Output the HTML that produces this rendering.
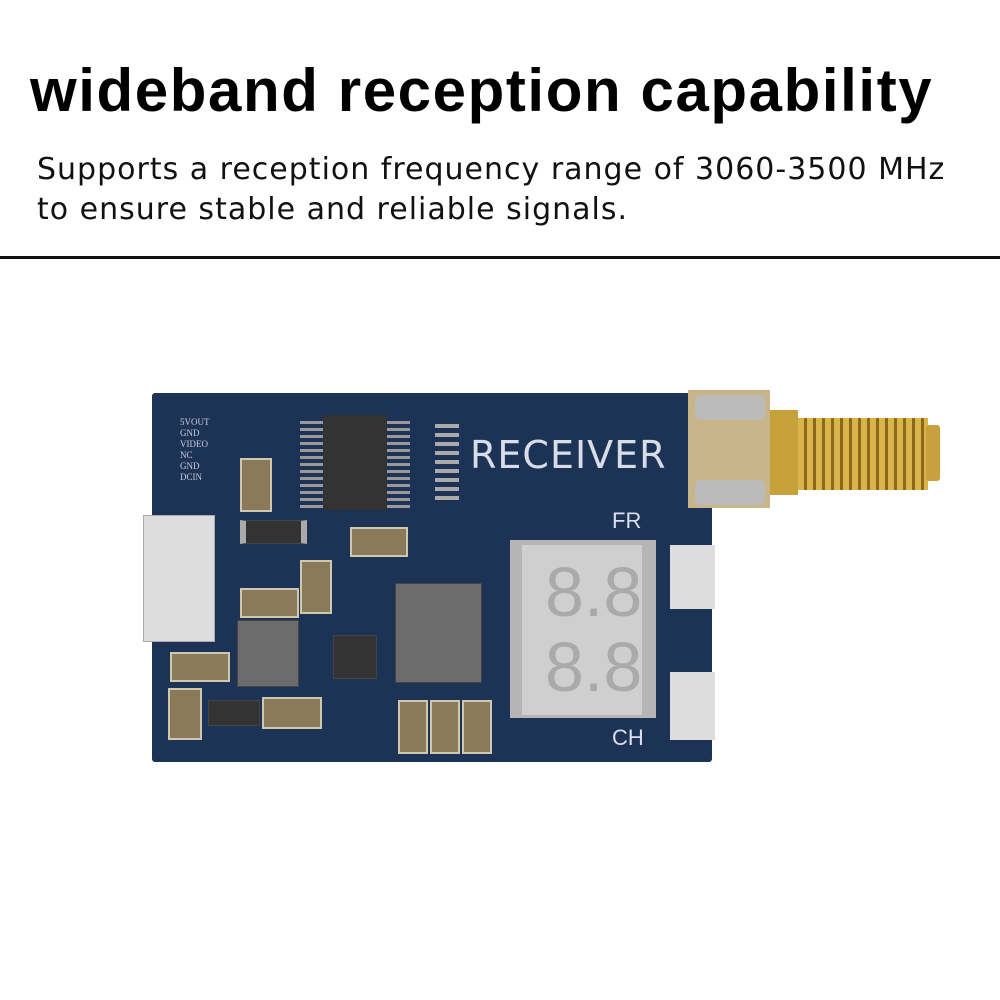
<!DOCTYPE html>
<html><head><style>
body{margin:0;width:1000px;height:1000px;background:#fff;position:relative;overflow:hidden;font-family:"Liberation Sans","DejaVu Sans",sans-serif}
.a{position:absolute}
h1{position:absolute;left:30px;top:56px;margin:0;font-size:60px;font-weight:bold;color:#000;letter-spacing:1.6px;white-space:nowrap}
.p{position:absolute;left:37px;font-size:30px;letter-spacing:1px;color:#111;font-family:"DejaVu Sans",sans-serif;white-space:nowrap}
.c{background:#8a7a5a;border:2px solid #cfc7b0}
.m{background:#777;border:1px solid #444}
</style></head><body>
<h1>wideband reception capability</h1>
<div class="p" style="top:152px">Supports a reception frequency range of 3060-3500 MHz</div>
<div class="p" style="top:192px">to ensure stable and reliable signals.</div>
<div class="a" style="left:0;top:256px;width:1000px;height:3px;background:#111"></div>

<div class="a" style="left:152px;top:393px;width:560px;height:369px;background:#1d3356;border-radius:3px"></div>
<div class="a" style="left:688px;top:390px;width:82px;height:118px;background:#c9b58a"></div>
<div class="a" style="left:695px;top:395px;width:70px;height:25px;background:#bbb;border-radius:6px"></div>
<div class="a" style="left:695px;top:480px;width:70px;height:25px;background:#bbb;border-radius:6px"></div>
<div class="a" style="left:770px;top:410px;width:28px;height:85px;background:#c7a23a"></div>
<div class="a" style="left:798px;top:418px;width:130px;height:72px;background:repeating-linear-gradient(90deg,#d8b44a 0 6px,#8a6a1a 6px 9px)"></div>
<div class="a" style="left:926px;top:425px;width:14px;height:56px;background:#c9a040;border-radius:3px"></div>

<div class="a" style="left:470px;top:433px;font-size:38px;color:#d8dde8;font-family:'DejaVu Sans',sans-serif;letter-spacing:1px">RECEIVER</div>
<div class="a" style="left:612px;top:508px;font-size:22px;color:#dde">FR</div>
<div class="a" style="left:612px;top:725px;font-size:22px;color:#dde">CH</div>
<div class="a" style="left:180px;top:417px;font-size:9px;line-height:11px;color:#ccd;font-family:'Liberation Serif',serif">5VOUT<br>GND<br>VIDEO<br>NC<br>GND<br>DCIN</div>

<div class="a" style="left:300px;top:418px;width:110px;height:90px;background:repeating-linear-gradient(0deg,#999 0 3px,transparent 3px 7px)"></div>
<div class="a" style="left:323px;top:415px;width:64px;height:95px;background:#333"></div>
<div class="a" style="left:435px;top:420px;width:24px;height:80px;background:repeating-linear-gradient(0deg,#aaa 0 4px,transparent 4px 9px)"></div>
<div class="a" style="left:143px;top:515px;width:70px;height:125px;background:#ddd;border:1px solid #aaa"></div>
<div class="a" style="left:510px;top:540px;width:146px;height:178px;background:#b5b5b5"></div>
<div class="a" style="left:522px;top:545px;width:120px;height:170px;background:#cfcfcf"></div>
<div class="a" style="left:545px;top:555px;font-size:70px;color:#aaa;line-height:75px">8.8<br>8.8</div>
<div class="a m" style="left:395px;top:583px;width:85px;height:98px;background:#6c6c6c"></div>
<div class="a m" style="left:237px;top:620px;width:60px;height:65px;background:#6c6c6c"></div>
<div class="a" style="left:670px;top:545px;width:45px;height:64px;background:#ddd"></div>
<div class="a" style="left:670px;top:672px;width:45px;height:68px;background:#ddd"></div>
<div class="a c" style="left:240px;top:458px;width:28px;height:50px"></div>
<div class="a c" style="left:350px;top:527px;width:54px;height:26px"></div>
<div class="a c" style="left:300px;top:560px;width:28px;height:50px"></div>
<div class="a c" style="left:240px;top:588px;width:55px;height:26px"></div>
<div class="a c" style="left:170px;top:652px;width:56px;height:26px"></div>
<div class="a c" style="left:168px;top:688px;width:30px;height:48px"></div>
<div class="a c" style="left:262px;top:697px;width:56px;height:28px"></div>
<div class="a c" style="left:398px;top:700px;width:26px;height:50px"></div>
<div class="a c" style="left:430px;top:700px;width:26px;height:50px"></div>
<div class="a c" style="left:462px;top:700px;width:26px;height:50px"></div>
<div class="a m" style="left:240px;top:520px;width:55px;height:22px;background:#333;border-left:6px solid #aaa;border-right:6px solid #aaa"></div>
<div class="a m" style="left:208px;top:700px;width:50px;height:24px;background:#333"></div>
<div class="a m" style="left:333px;top:635px;width:42px;height:42px;background:#333"></div>
</body></html>
